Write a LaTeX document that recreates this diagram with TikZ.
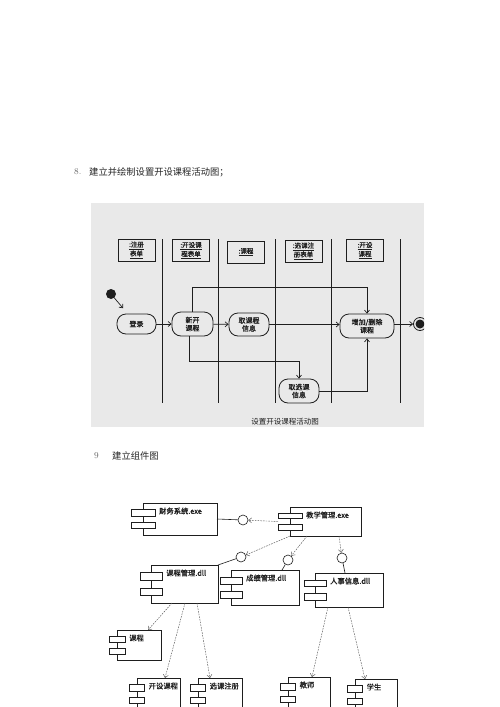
\documentclass[tikz,border=0pt]{standalone}
\usepackage{fontspec}
\newfontfamily\cjk{Noto Sans CJK SC}
\newfontfamily\cjkscan[FakeBold=1.2]{Noto Sans CJK SC}
\usetikzlibrary{arrows.meta}
\definecolor{scangray}{RGB}{233,233,233}
\definecolor{ink}{RGB}{30,30,30}
\tikzset{
    heading/.style={anchor=west, inner sep=0pt, font=\cjk\fontsize{9.3}{11}\selectfont, text=black!85},
    headnum/.style={anchor=west, inner sep=0pt, font=\fontsize{9}{11}\selectfont, text=black!60},
    lanebox/.style={draw=ink, line width=0.8pt, minimum width=37pt, minimum height=22pt, inner sep=1pt,
        align=center, font=\cjkscan\fontsize{6.5}{7.6}\selectfont, text=ink},
    lane/.style={draw=ink, line width=0.8pt},
    act/.style={draw=ink, line width=0.8pt, rounded corners=9pt, minimum height=23pt, inner sep=1pt,
        align=center, font=\cjkscan\fontsize{7}{8}\selectfont, text=ink},
    flow/.style={draw=ink, line width=0.7pt, -{Straight Barb[length=3pt,width=5pt]}},
    startdot/.style={circle, fill=ink, minimum size=10pt, inner sep=0pt},
    caption/.style={inner sep=0pt, font=\cjk\fontsize{7.5}{9}\selectfont, text=ink},
    compbody/.style={draw=ink, line width=0.6pt, anchor=north west, inner sep=0pt, outer sep=0pt},
    comptab/.style={draw=ink, line width=0.6pt, fill=white},
    comptext/.style={anchor=west, inner sep=0pt, font=\cjkscan\fontsize{7.3}{8}\selectfont, text=ink},
    iface/.style={circle, draw=ink, fill=white, line width=0.6pt, minimum size=10pt, inner sep=0pt},
    wire/.style={draw=ink, line width=0.6pt},
    dep/.style={draw=ink!75, line width=0.45pt, dash pattern=on 1.6pt off 1.1pt,
        -{Straight Barb[length=3pt,width=5pt]}}
}
\newcommand\component[7]{%
    \node[compbody, minimum width=#4pt, minimum height=#5pt] (#1) at (#2,#3) {};
    \draw[comptab] ([xshift=-0.5*#6pt, yshift=-0.2*#5pt]#1.north west) rectangle ++(#6,0.2*#5);
    \draw[comptab] ([xshift=-0.5*#6pt, yshift=-0.6*#5pt]#1.north west) rectangle ++(#6,0.2*#5);
    \node[comptext] (#1-label) at ([xshift=0.5*#6pt+4pt, yshift=-8pt]#1.north west) {#7};
}
\begin{document}
\begin{tikzpicture}[x=1pt, y=-1pt]
        \useasboundingbox (0,0) rectangle (500,707);
        \clip (0,0) rectangle (500,707);
        \fill[white] (0,0) rectangle (500,707);

        \node[headnum] (num8) at (74,172) {8.};
        \node[heading] (title8) at (89,172) {建立并绘制设置开设课程活动图；};

        \begin{scope}
            \clip (91,203) rectangle (424,427);
            \fill[scangray] (91,203) rectangle (424,427);
            \foreach \x in {162,218,275,331,400}
                \draw[lane] (\x,239) -- (\x,403);
            \node[lanebox] (form) at (136.5,250) {\underline{:注册}\\\underline{表单}};
            \node[lanebox] (openform) at (191,250.5) {\underline{:开设课}\\\underline{程表单}};
            \node[lanebox] (course) at (246,252) {\underline{:课程}};
            \node[lanebox] (selform) at (303.5,251) {\underline{:选课注}\\\underline{册表单}};
            \node[lanebox] (opencourse) at (365,250.5) {\underline{:开设}\\\underline{课程}};

            \node[startdot] (start) at (111,294) {};
            \node[act, minimum width=39pt, minimum height=20pt] (login) at (136.5,324) {登录};
            \node[act, minimum width=41pt, minimum height=24pt] (newc) at (192.5,324) {新开\\课程};
            \node[act, minimum width=40pt] (getc) at (249,324.5) {取课程\\信息};
            \node[act, minimum width=54pt, minimum height=24pt] (edit) at (367,326) {增加/删除\\课程};
            \node[act, minimum width=40pt, minimum height=24pt] (gets) at (299,391) {取选课\\信息};
            \node[circle, draw=ink, line width=0.8pt, fill=scangray, minimum size=13pt, inner sep=0pt] (stop) at (420,324) {};
            \node[circle, fill=ink, minimum size=9pt, inner sep=0pt] (stopdot) at (stop) {};

            \draw[flow, shorten >=7pt] (start) -- (login);
            \draw[flow] (login) -- (newc);
            \draw[flow] (newc) -- (getc);
            \draw[flow] (getc.east) -- (getc.east -| edit.west);
            \draw[flow] (edit.east |- stop) -- (stop);
            \draw[flow] (newc.north) -- (newc.north |- 0,287) -| (edit.north);
            \draw[flow] ([xshift=-3pt]newc.south) -- ([xshift=-3pt]newc.south |- 0,361) -| (gets.north);
            \draw[flow] (gets.east) -| (edit.south);

            \node[caption] (cap) at (285,422) {设置开设课程活动图};
        \end{scope}

        \node[headnum] (num9) at (94,456) {9};
        \node[heading] (title9) at (112,456) {建立组件图};

        \component{fin}{143}{503}{74}{32}{24}{财务系统.exe}
        \component{teach}{290}{507}{71}{29}{24}{教学管理.exe}
        \component{cm}{151}{565}{67}{38}{22}{课程管理.dll}
        \component{gr}{231}{570}{68}{35}{22}{成绩管理.dll}
        \component{hr}{315}{573}{68}{34}{22}{人事信息.dll}
        \component{crs}{117}{630}{44}{30}{16}{课程}
        \component{oc}{137}{678}{43}{32}{15}{开设课程}
        \component{sc}{198}{678}{44}{32}{15}{选课注册}
        \component{th}{288}{677}{42}{32}{15}{教师}
        \component{st}{355}{679}{42}{32}{15}{学生}

        \node[iface] (i0) at (243,520) {};
        \node[iface] (i1) at (241,557) {};
        \node[iface] (i2) at (288,560) {};
        \node[iface] (i3) at (342,558) {};

        \draw[wire] (fin.east) -- (i0);
        \draw[wire] (i1) -- (cm.north east);
        \draw[wire] (i2) -- ([xshift=51pt]gr.north west);
        \draw[wire] (i3) -- ([xshift=30pt]hr.north west);

        \draw[dep] ([xshift=-12pt]teach.west) -- (i0);
        \draw[dep] (teach.south west) -- (i1);
        \draw[dep] ([xshift=17pt]teach.south west) -- (i2);
        \draw[dep] ([xshift=49pt]teach.south west) -- (i3);
        \draw[dep] ([xshift=21pt]cm.south west) -- ([xshift=-13pt]crs.north east);
        \draw[dep] ([xshift=34pt]cm.south west) -- ([xshift=28pt]oc.north west);
        \draw[dep] ([xshift=46pt]cm.south west) -- ([xshift=12pt]sc.north west);
        \draw[dep] ([xshift=13pt]hr.south west) -- ([xshift=24pt]th.north west);
        \draw[dep] ([xshift=33pt]hr.south west) -- ([xshift=10pt]st.north west);
\end{tikzpicture}
\end{document}
